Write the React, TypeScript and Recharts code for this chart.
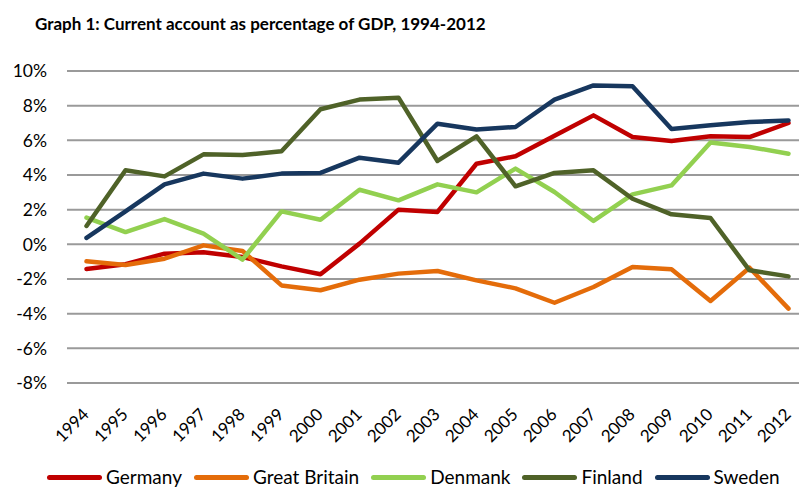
import { LineChart, Line, CartesianGrid, XAxis, YAxis } from "recharts";

const years = [
  1994, 1995, 1996, 1997, 1998, 1999, 2000, 2001, 2002, 2003, 2004, 2005, 2006,
  2007, 2008, 2009, 2010, 2011, 2012,
];

const germany = [
  -1.42, -1.15, -0.54, -0.46, -0.73, -1.27, -1.73, 0.04, 2.0, 1.87, 4.65, 5.08,
  6.27, 7.44, 6.19, 5.96, 6.23, 6.19, 7.0,
];
const greatBritain = [
  -0.98, -1.19, -0.83, -0.06, -0.38, -2.37, -2.65, -2.04, -1.69, -1.54, -2.08,
  -2.54, -3.37, -2.46, -1.31, -1.44, -3.27, -1.35, -3.71,
];
const denmark = [
  1.54, 0.71, 1.46, 0.62, -0.88, 1.9, 1.42, 3.15, 2.54, 3.46, 3.0, 4.37, 3.02,
  1.35, 2.88, 3.4, 5.88, 5.62, 5.23,
];
const finland = [
  1.06, 4.27, 3.92, 5.19, 5.15, 5.37, 7.79, 8.35, 8.46, 4.81, 6.23, 3.35, 4.12,
  4.27, 2.63, 1.73, 1.52, -1.5, -1.85,
];
const sweden = [
  0.37, 1.9, 3.46, 4.08, 3.79, 4.08, 4.12, 5.0, 4.71, 6.96, 6.63, 6.77, 8.35,
  9.17, 9.12, 6.65, 6.87, 7.06, 7.15,
];

const yTicks = [-8, -6, -4, -2, 0, 2, 4, 6, 8, 10];

const series = [
  { key: "germany", name: "Germany", color: "#C00000", values: germany },
  { key: "gb", name: "Great Britain", color: "#E46C0A", values: greatBritain },
  { key: "denmark", name: "Denmank", color: "#92D050", values: denmark },
  { key: "finland", name: "Finland", color: "#4F6228", values: finland },
  { key: "sweden", name: "Sweden", color: "#17375E", values: sweden },
];

const data = years.map((year, i) => {
  const row: any = { year };
  series.forEach((s) => {
    row[s.key] = s.values[i];
  });
  return row;
});

const font = "Lato, 'Open Sans', sans-serif";

function YearTick(props: any) {
  const { x, y, payload } = props;
  return (
    <g transform={`translate(${x},${y})`}>
      <text
        transform="rotate(-45)"
        textAnchor="end"
        dx={-7}
        dy={12}
        fontSize={17}
        fontFamily={font}
        fill="#000"
      >
        {payload.value}
      </text>
    </g>
  );
}

export default function App() {
  return (
    <div
      style={{
        position: "fixed",
        left: 0,
        top: 0,
        width: 799,
        height: 490,
        overflow: "hidden",
        background: "#fff",
        fontFamily: font,
      }}
    >
      <div
        style={{
          position: "absolute",
          left: 35,
          top: 13,
          fontSize: 17,
          fontWeight: 700,
          color: "#000",
          whiteSpace: "nowrap",
        }}
      >
        Graph 1: Current account as percentage of GDP, 1994-2012
      </div>

      <div style={{ position: "absolute", left: 0, top: 0 }}>
        <LineChart
          width={799}
          height={460}
          data={data}
          margin={{ top: 71, right: 0, bottom: 0, left: 0 }}
        >
          <CartesianGrid vertical={false} stroke="#9a9a9a" strokeWidth={2} />
          <XAxis
            dataKey="year"
            type="number"
            domain={[1994, 2012]}
            ticks={years}
            interval={0}
            padding={{ left: 19.5, right: 10.5 }}
            axisLine={false}
            tickLine={false}
            tickSize={0}
            tickMargin={19}
            height={77}
            tick={<YearTick />}
          />
          <YAxis
            domain={[-8, 10]}
            ticks={yTicks}
            interval={0}
            width={67}
            axisLine={false}
            tickLine={false}
            tickSize={0}
            tickMargin={20}
            tickFormatter={(v) => `${v}%`}
            tick={{ fontSize: 17.5, fill: "#000", fontFamily: font }}
          />
          {series.map((s) => (
            <Line
              key={s.key}
              dataKey={s.key}
              name={s.name}
              stroke={s.color}
              strokeWidth={4.5}
              strokeLinejoin="round"
              strokeLinecap="round"
              dot={false}
              activeDot={false}
              isAnimationActive={false}
            />
          ))}
        </LineChart>
      </div>

      <div
        style={{
          position: "absolute",
          left: 47,
          top: 466,
          height: 22,
          display: "flex",
          alignItems: "center",
          fontSize: 19,
          lineHeight: "22px",
          color: "#000",
          whiteSpace: "nowrap",
        }}
      >
        {series.map((s) => (
          <div
            key={s.key}
            style={{ display: "flex", alignItems: "center", marginRight: 12 }}
          >
            <span
              style={{
                display: "inline-block",
                width: 55,
                height: 5,
                borderRadius: 3,
                background: s.color,
                marginRight: 4,
              }}
            />
            <span>{s.name}</span>
          </div>
        ))}
      </div>
    </div>
  );
}
